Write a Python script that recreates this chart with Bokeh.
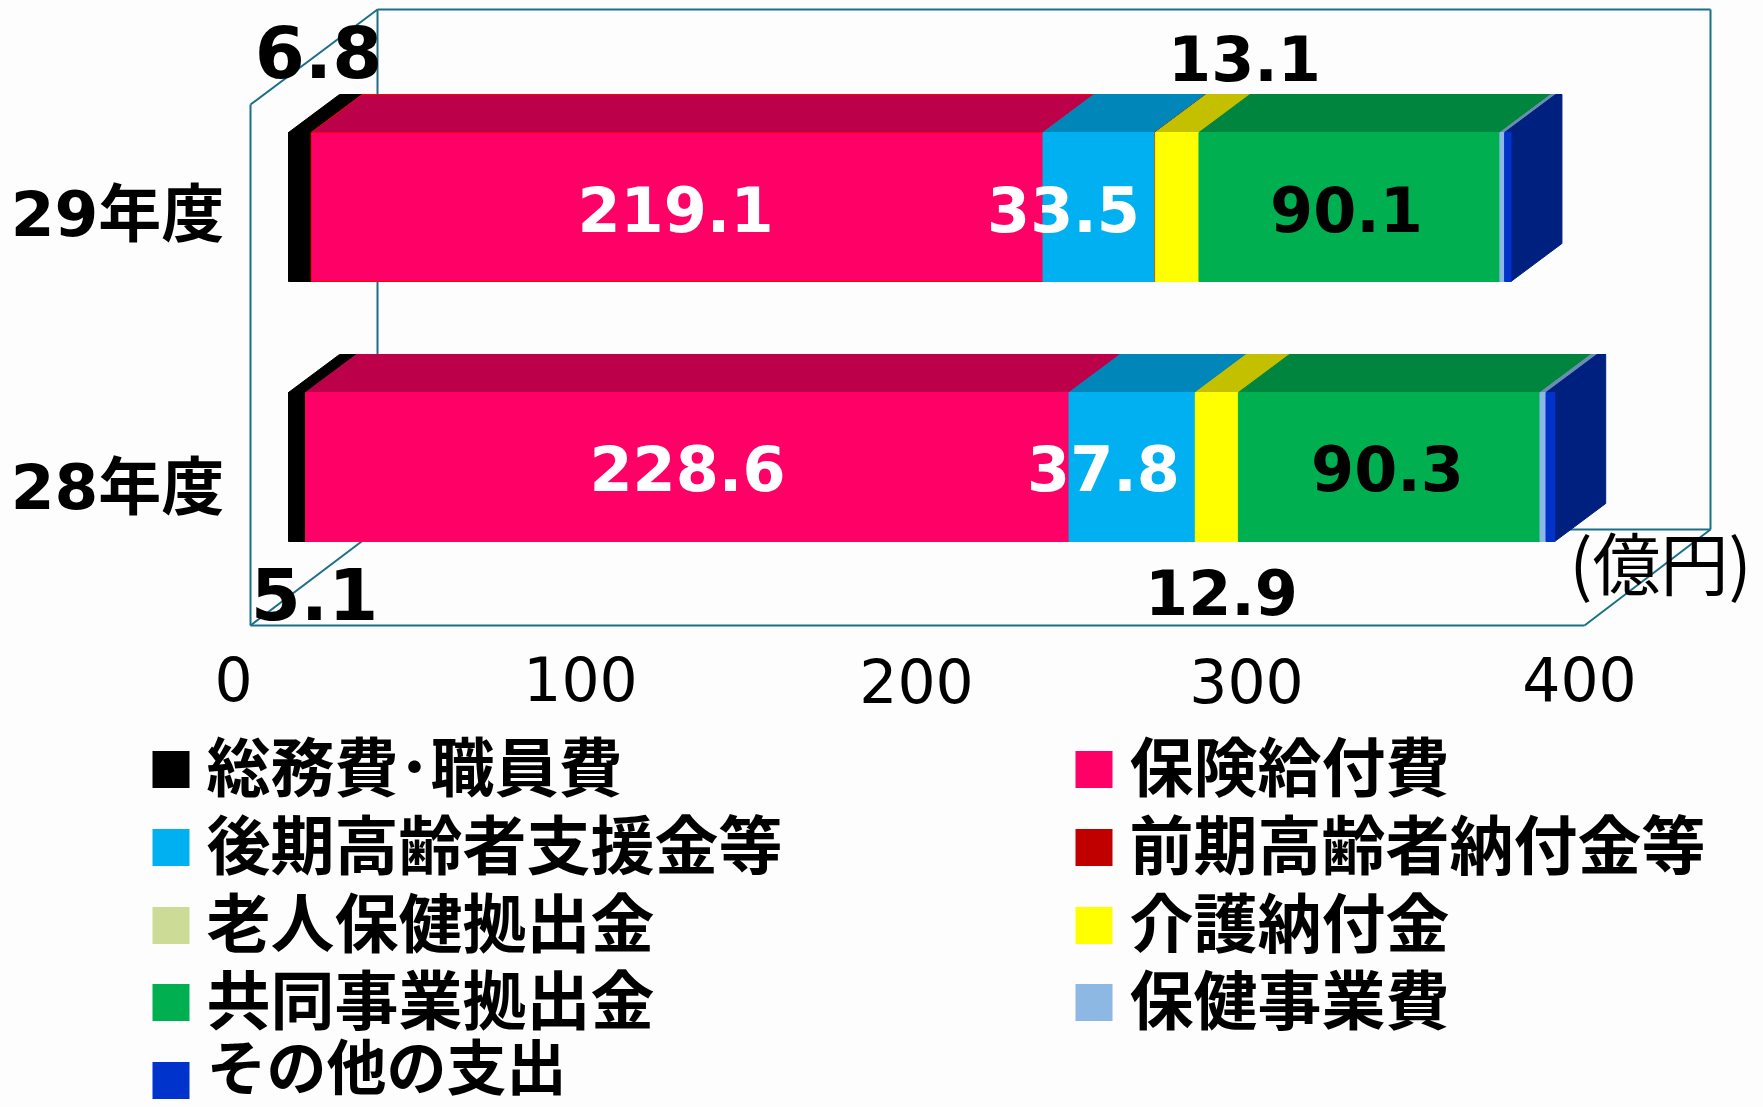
from bokeh.plotting import figure
from bokeh.models import Range1d
from bokeh.core.properties import value
from bokeh.embed import file_html
from bokeh.resources import INLINE

# ---------- data ----------
years = ["28年度", "29年度"]
soumu = [5.1, 6.8]
hoken = [228.6, 219.1]
kouki = [37.8, 33.5]
zenki = [0.0, 0.1]
roujin = [0.0, 0.0]
kaigo = [12.9, 13.1]
kyoudou = [90.3, 90.1]
hokenji = [1.8, 1.4]
sonota = [2.6, 1.9]
series_names = ["総務費･職員費", "保険給付費", "後期高齢者支援金等", "前期高齢者納付金等", "老人保健拠出金",
                "介護納付金", "共同事業拠出金", "保健事業費", "その他の支出"]
series_values = [soumu, hoken, kouki, zenki, roujin, kaigo, kyoudou, hokenji, sonota]
x_ticks = ["0", "100", "200", "300", "400"]
unit = "(億円)"

# ---------- styles / layout ----------
front = ["#000000", "#FF0066", "#00B0F0", "#C00000", "#CCDC96", "#FFFF00", "#00B050", "#8DB8E3", "#0033CC"]
top = ["#000000", "#BC004A", "#0086B8", "#8E0000", "#97A36F", "#C4C000", "#00853F", "#6C8EAE", "#002080"]
SIDE = "#002080"
WALL = "#1B7088"
S = 3.34           # px per axis unit
X0 = 288           # px of value 0 at the bars' front plane
Y28, ROW = 466.5, 260.0
BAR_H = 149 / ROW
DX, DY = 51 / S, 38 / ROW
L, R, T, B = 0, 1763, 0, 1107
SANS = value("'DejaVu Sans','Noto Sans CJK JP'")
CJK = value("Noto Sans CJK JP")

p = figure(width=R - L, height=B - T, output_backend="svg", toolbar_location=None,
           x_range=Range1d((L - X0) / S, (R - X0) / S),
           y_range=Range1d((Y28 - B) / ROW, (Y28 - T) / ROW),
           min_border=0, outline_line_color=None,
           background_fill_color="#FDFDFD", border_fill_color="#FDFDFD")
p.axis.visible = False
p.grid.visible = False
p.extra_x_ranges["px"] = Range1d(L, R)
p.extra_y_ranges["px"] = Range1d(B, T)
PX = dict(x_range_name="px", y_range_name="px")

# wire frame of the 3-D plot box
frame = [([250, 250], [104, 625]), ([250, 1584], [625, 625]), ([250, 377], [104, 9]),
         ([377, 1710], [9, 9]), ([1710, 1710], [9, 529]), ([377, 377], [9, 529]),
         ([377, 1710], [529, 529]), ([250, 377], [625, 529]), ([1584, 1710], [625, 529])]
for xs, ys in frame:
    p.line(xs, ys, line_color=WALL, line_width=2, **PX)

# stacked 3-D bars
for row in range(2):
    left = 0.0
    ytop = row + BAR_H / 2
    ybot = row - BAR_H / 2
    edge = "#FF0000" if row == 1 else None
    for i, vals in enumerate(series_values):
        v = vals[row]
        if v <= 0:
            continue
        right = left + v
        ec = edge if (i == 1 and edge) else top[i]
        p.patch([left, right, right + DX, left + DX], [ytop, ytop, ytop + DY, ytop + DY],
                fill_color=top[i], line_color=ec, line_width=1)
        left = right
    p.patch([left, left + DX, left + DX, left], [ytop, ytop + DY, ybot + DY, ybot],
            fill_color=SIDE, line_color=SIDE, line_width=1)
    left = 0.0
    for i, vals in enumerate(series_values):
        v = vals[row]
        if v <= 0:
            continue
        ec = edge if (i == 1 and edge) else front[i]
        p.hbar(y=[row], left=[left], right=[left + v], height=BAR_H,
               fill_color=front[i], line_color=ec, line_width=1)
        left += v

def txt(x, y, s, size, color="#000000", bold=True, font=SANS, align="center"):
    p.text([x], [y], text=[s], text_font=font, text_font_size=f"{size}px",
           text_font_style="bold" if bold else "normal", text_color=color,
           text_align=align, text_baseline="middle", **PX)

# value labels
fmt = lambda v: f"{v:.1f}"
txt(318, 51, fmt(soumu[1]), 72)
txt(314, 593, fmt(soumu[0]), 72)
txt(675, 208, fmt(hoken[1]), 62, "#FFFFFF")
txt(687, 467, fmt(hoken[0]), 62, "#FFFFFF")
txt(1063, 208, fmt(kouki[1]), 62, "#FFFFFF")
txt(1103, 467, fmt(kouki[0]), 62, "#FFFFFF")
txt(1244, 57, fmt(kaigo[1]), 62)
txt(1221, 591, fmt(kaigo[0]), 62)
txt(1346, 208, fmt(kyoudou[1]), 62)
txt(1387, 467, fmt(kyoudou[0]), 62)

# category and tick labels
txt(117, 214, years[1], 63)
txt(117, 487, years[0], 63)
for s, x, y in zip(x_ticks, [233, 580, 916, 1246, 1579], [678, 678, 680, 680, 678]):
    txt(x, y, s, 60, bold=False)
txt(1660, 560, unit, 68, bold=False, font=CJK)

# legend
rows_y = [769, 847, 925, 1002, 1080]
for i, name in enumerate(series_names):
    r, c = i // 2, i % 2
    mx = 152 if c == 0 else 1075
    y = rows_y[r]
    p.quad(left=[mx], right=[mx + 37], top=[y - 18.5], bottom=[y + 18.5],
           fill_color=front[i], line_color=None, **PX)
    last = i == len(series_names) - 1
    txt(mx + 54, y - (17 if last else 7), name, 60 if last else 64, font=CJK, align="left")

open("out.html", "w").write(file_html(p, INLINE))
